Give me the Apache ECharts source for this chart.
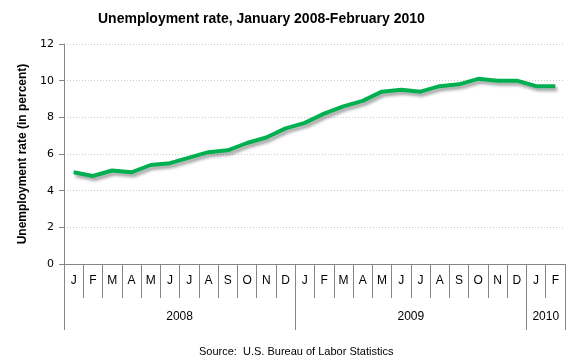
<!DOCTYPE html>
<html><head><meta charset="utf-8">
<script src="https://cdn.jsdelivr.net/npm/echarts@6/dist/echarts.min.js"></script>
<style>html,body{margin:0;padding:0;background:#fff}#c{width:580px;height:360px}</style>
</head><body><div id="c"></div>
<script>
var months = ['J','F','M','A','M','J','J','A','S','O','N','D','J','F','M','A','M','J','J','A','S','O','N','D','J','F'];
var rates = [5.0,4.8,5.1,5.0,5.4,5.5,5.8,6.1,6.2,6.6,6.9,7.4,7.7,8.2,8.6,8.9,9.4,9.5,9.4,9.7,9.8,10.1,10.0,10.0,9.7,9.7];
var years = ['2008','2009','2010'];
var yearMonthCounts = [12,12,2];
var yTicks = [0,2,4,6,8,10,12];

// half-month slots for year axis: 2*N+1 points
var halfSlots = [], yearTickIdx = [0], yearLabelIdx = [];
(function(){
  var n = months.length*2+1, pos = 0;
  for (var i=0;i<n;i++) halfSlots.push('');
  for (var y=0;y<years.length;y++){
    var c = yearMonthCounts[y]*2;
    var center = pos + c/2;
    halfSlots[center] = years[y];
    yearLabelIdx.push(center);
    pos += c;
    yearTickIdx.push(pos);
  }
})();

var axisGray = '#868686';
var chart = echarts.init(document.getElementById('c'), null, {renderer:'canvas'});
chart.setOption({
  animation:false,
  title:[{
    text:'Unemployment rate, January 2008-February 2010',
    left:93, top:7,
    textStyle:{fontFamily:'Liberation Sans, Arial', fontWeight:'bold', fontSize:14, color:'#000'}
  },{
    text:'Source:  U.S. Bureau of Labor Statistics',
    left:194, top:341,
    textStyle:{fontFamily:'Liberation Sans, Arial', fontWeight:'normal', fontSize:11, color:'#000'}
  }],
  grid:{left:64, right:15, top:44, bottom:96, containLabel:false},
  xAxis:[{
    type:'category', data:months, boundaryGap:true, position:'bottom',
    axisLine:{lineStyle:{color:axisGray, width:1}},
    axisTick:{show:true, interval:0, length:34, lineStyle:{color:axisGray}},
    axisLabel:{interval:0, margin:11, fontFamily:'Liberation Sans, Arial', fontSize:12, color:'#000'},
    splitLine:{show:false}
  },{
    type:'category', data:halfSlots, boundaryGap:false, position:'bottom', offset:0,
    axisLine:{show:false},
    axisTick:{show:true, length:66, lineStyle:{color:axisGray},
      interval:function(i){return yearTickIdx.indexOf(i)>=0;}},
    axisLabel:{margin:47, fontFamily:'Liberation Sans, Arial', fontSize:12, color:'#000',
      interval:function(i){return yearLabelIdx.indexOf(i)>=0;}},
    splitLine:{show:false}
  }],
  yAxis:{
    type:'value', min:yTicks[0], max:yTicks[yTicks.length-1], interval:2,
    name:'Unemployment rate (in percent)', nameLocation:'middle', nameGap:34,
    nameTextStyle:{fontFamily:'Liberation Sans, Arial', fontWeight:'bold', fontSize:12, color:'#000'},
    axisLine:{show:true, lineStyle:{color:axisGray}},
    axisTick:{show:true, length:5, lineStyle:{color:axisGray}},
    axisLabel:{margin:10, fontFamily:'DejaVu Sans, Liberation Sans', fontSize:11, color:'#000'},
    splitLine:{show:true, lineStyle:{color:'#c8c8c8', type:[1,2], width:1}}
  },
  series:[{
    type:'line', data:rates, xAxisIndex:0, symbol:'none', smooth:false,
    lineStyle:{color:'#00B050', width:4, shadowColor:'rgba(0,0,0,0.35)', shadowBlur:3, shadowOffsetX:2, shadowOffsetY:3},
    itemStyle:{color:'#00B050'}
  }]
});
</script></body></html>
